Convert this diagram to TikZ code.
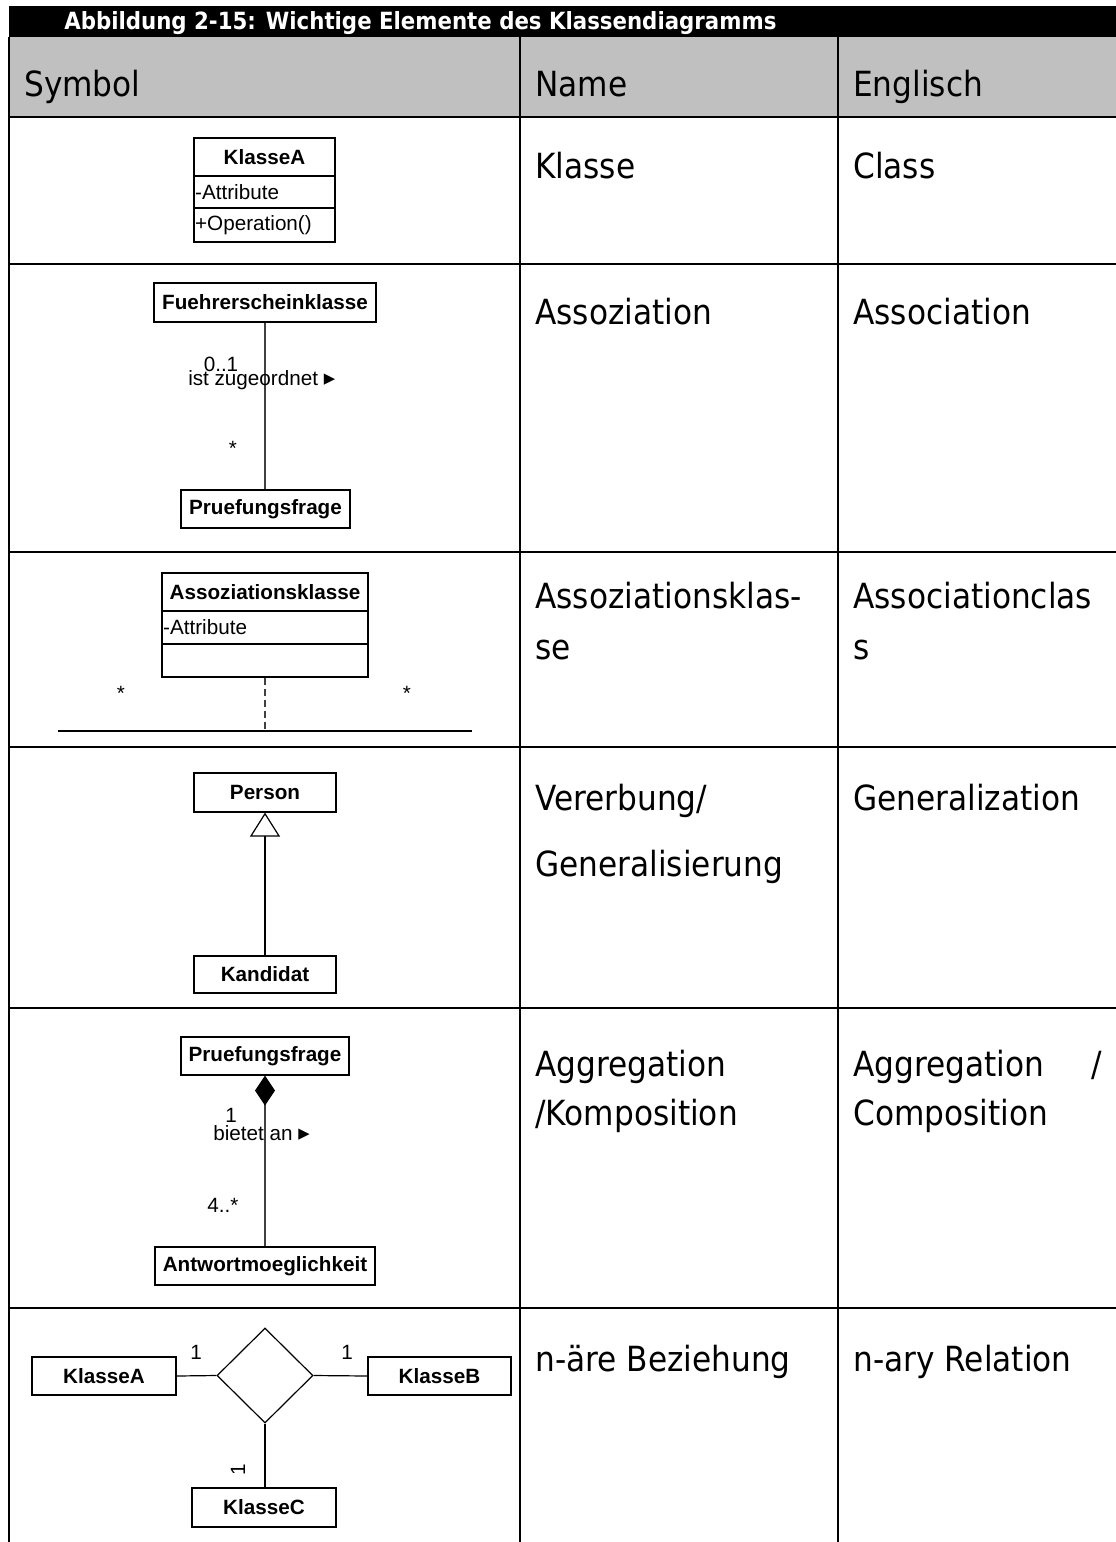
\documentclass[tikz,border=0pt]{standalone}
\usepackage{fontspec}
\usepackage{graphicx}
\usetikzlibrary{arrows.meta,shapes.geometric}
\setmainfont{DejaVu Sans}[FakeStretch=0.9]
\newfontfamily\umlfont{Liberation Sans}
\newfontfamily\glyphfont{DejaVu Sans}
\newdimen\pxu
\pxu=0.75pt
\definecolor{hdrgrey}{HTML}{C0C0C0}
\definecolor{linkgrey}{HTML}{404040}
\newcommand{\rowfont}{\fontsize{26pt}{31pt}\selectfont}
\newcommand{\umlsize}{\umlfont\fontsize{15.5pt}{18pt}\selectfont}
\newcommand{\navtri}{{\glyphfont\fontsize{17pt}{18pt}\selectfont ▸}}

\begin{document}
\begin{tikzpicture}[x=0.75pt,y=-0.75pt,
  tablerule/.style={line width=2\pxu, draw=black},
  rowtext/.style={anchor=base west, inner sep=0pt, font=\rowfont},
  umlbox/.style={draw=black, line width=1.2\pxu, fill=white, inner sep=0pt, font=\umlsize\bfseries},
  compbox/.style={draw=black, line width=1.2\pxu, fill=white, inner sep=0pt},
  comptext/.style={anchor=west, inner xsep=1.5\pxu, inner ysep=0pt, font=\umlsize},
  umllabel/.style={inner sep=0pt, font=\umlsize},
  link/.style={draw=linkgrey, line width=1.3\pxu},
  plainlink/.style={draw=black, line width=1.2\pxu},
]
\useasboundingbox (0,0) rectangle (1116,1542);

% ---- table frame ----
\fill[black] (9,6) rectangle (1116,37);
\fill[hdrgrey] (9,37) rectangle (1116,117);
\foreach \yy in {117,264,552,747,1008,1308}
  \draw[tablerule] (9,\yy) -- (1116,\yy);
\foreach \xx in {9,520,838}
  \draw[tablerule] (\xx,37) -- (\xx,1542);

% ---- caption and column heads ----
\node[anchor=base west, inner sep=0pt, text=white, font=\bfseries] (title) at (64,29)
  {\resizebox{712\pxu}{!}{Abbildung 2-15: Wichtige Elemente des Klassendiagramms}};
\node[rowtext] (hsym) at (24,96) {Symbol};
\node[rowtext] (hname) at (535,96) {Name};
\node[rowtext] (heng) at (853,96) {Englisch};

% ---- name / english columns ----
\node[rowtext] (n1) at (535,178) {Klasse};
\node[rowtext] (e1) at (853,178) {Class};
\node[rowtext] (n2) at (535,324) {Assoziation};
\node[rowtext] (e2) at (853,324) {Association};
\node[rowtext] (n3a) at (535,608) {Assoziationsklas-};
\node[rowtext] (n3b) at (535,659) {se};
\node[rowtext] (e3a) at (853,608) {Associationclas};
\node[rowtext] (e3b) at (853,659) {s};
\node[rowtext] (n4a) at (535,810) {Vererbung/};
\node[rowtext] (n4b) at (535,876) {Generalisierung};
\node[rowtext] (e4) at (853,810) {Generalization};
\node[rowtext] (n5a) at (535,1076) {Aggregation};
\node[rowtext] (n5b) at (535,1125) {/Komposition};
\node[rowtext] (e5a) at (853,1076) {Aggregation};
\node[rowtext] (e5s) at (1091,1076) {/};
\node[rowtext] (e5b) at (853,1125) {Composition};
\node[rowtext] (n6) at (535,1371) {n-äre Beziehung};
\node[rowtext] (e6) at (853,1371) {n-ary Relation};

% ---- class ----
\node[umlbox, minimum width=141\pxu, minimum height=38\pxu] (kaName) at (264.5,157) {KlasseA};
\node[compbox, minimum width=141\pxu, minimum height=32\pxu] (kaAttr) at (264.5,192) {};
\node[compbox, minimum width=141\pxu, minimum height=34\pxu] (kaOps) at (264.5,225) {};
\node[comptext] (kaAttrT) at (kaAttr.west) {-Attribute};
\node[comptext] (kaOpsT) at (kaOps.west) {+Operation()};

% ---- association ----
\node[umlbox, minimum width=222\pxu, minimum height=39\pxu] (fks) at (265,302.5) {Fuehrerscheinklasse};
\node[umlbox, minimum width=169\pxu, minimum height=38\pxu] (pfa) at (265.5,509) {Pruefungsfrage};
\draw[link] (fks.south) -- (fks.south |- pfa.north);
\node[umllabel, anchor=base] (m01) at (221,371) {0..1};
\node[umllabel, anchor=base west] (assocName) at (188,385.5) {ist zugeordnet \navtri};
\node[umllabel, anchor=base] (mstar) at (233,455) {*};

% ---- association class ----
\node[umlbox, minimum width=206\pxu, minimum height=38\pxu] (akName) at (265,592) {Assoziationsklasse};
\node[compbox, minimum width=206\pxu, minimum height=33\pxu] (akAttr) at (265,627.5) {};
\node[compbox, minimum width=206\pxu, minimum height=33\pxu] (akOps) at (265,660.5) {};
\node[comptext] (akAttrT) at (akAttr.west) {-Attribute};
\coordinate (assocL) at (58,731);
\coordinate (assocR) at (472,731);
\draw[plainlink] (assocL) -- (assocR);
\draw[link, dash pattern=on 7\pxu off 4\pxu] (akOps.south) -- (akOps.south |- assocL);
\node[umllabel, anchor=base] (starL) at (121,700) {*};
\node[umllabel, anchor=base] (starR) at (407,700) {*};

% ---- generalization ----
\node[umlbox, minimum width=142\pxu, minimum height=39\pxu] (person) at (265,792.5) {Person};
\node[umlbox, minimum width=142\pxu, minimum height=37\pxu] (kandidat) at (265,974.5) {Kandidat};
\draw[plainlink, -{Triangle[open, length=18pt, width=22.5pt]}] (kandidat.north) -- (person.south);

% ---- composition ----
\node[umlbox, minimum width=168\pxu, minimum height=38\pxu] (pfb) at (265,1056) {Pruefungsfrage};
\node[umlbox, minimum width=220\pxu, minimum height=38\pxu] (antw) at (265,1266) {Antwortmoeglichkeit};
\draw[link, {Diamond[length=22.5pt, width=15pt, color=black]}-] (pfb.south) -- (antw.north);
\node[umllabel, anchor=base] (m1) at (231,1122) {1};
\node[umllabel, anchor=base west] (compName) at (213,1140.5) {bietet an \navtri};
\node[umllabel, anchor=base] (m4) at (223,1212.5) {4..*};

% ---- n-ary relation ----
\node[draw=black, line width=1.2\pxu, shape=diamond, minimum width=96\pxu, minimum height=95\pxu, inner sep=0pt] (rel) at (265,1375.5) {};
\node[umlbox, minimum width=144\pxu, minimum height=38\pxu] (kA) at (104,1376) {KlasseA};
\node[umlbox, minimum width=143\pxu, minimum height=38\pxu] (kB) at (439.5,1376) {KlasseB};
\node[umlbox, minimum width=144\pxu, minimum height=39\pxu] (kC) at (264,1507.5) {KlasseC};
\draw[plainlink] (kA.east) -- (rel.west);
\draw[plainlink] (rel.east) -- (kB.west);
\draw[plainlink] (rel.south) -- (rel.south |- kC.north);
\node[umllabel, anchor=base] (mA) at (196,1359.5) {1};
\node[umllabel, anchor=base] (mB) at (347,1359.5) {1};
\node[umllabel, rotate=90] (mC) at (238,1470) {1};

\end{tikzpicture}
\end{document}
